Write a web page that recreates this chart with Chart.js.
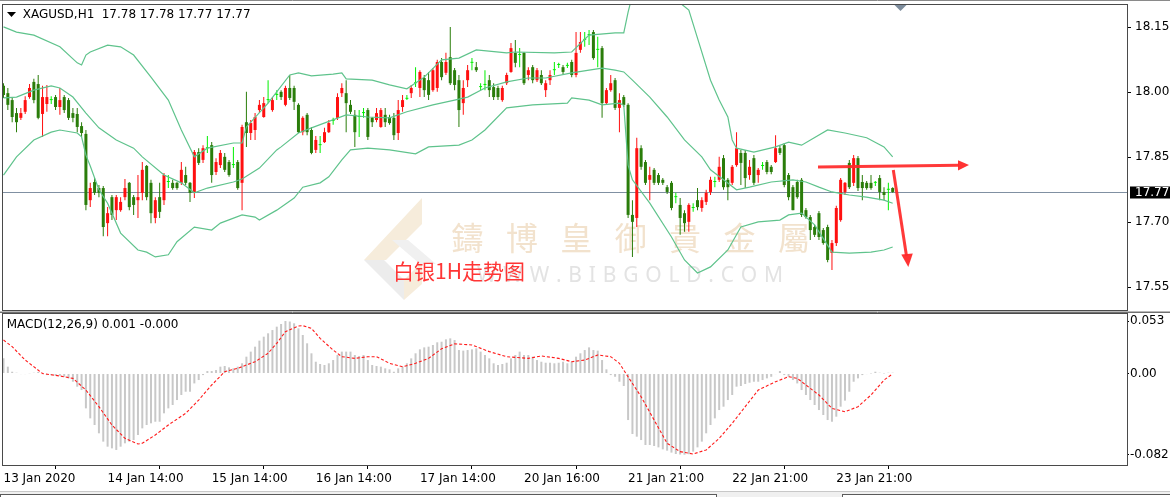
<!DOCTYPE html>
<html><head><meta charset="utf-8">
<script src="https://cdn.jsdelivr.net/npm/chart.js@4.4.1/dist/chart.umd.min.js"></script>
<style>
html,body{margin:0;padding:0;background:#fff;width:1170px;height:497px;overflow:hidden;}
canvas{position:absolute;left:0;}
#main{top:0;}
#macd{top:312px;}
</style></head><body>
<canvas id="main" width="1170" height="312"></canvas>
<canvas id="macd" width="1170" height="185"></canvas>
<script>
// ---------- DATA ----------
const symbolTitle = 'XAGUSD,H1';
const macdTitle = 'MACD(12,26,9)';
const opens = [18.015,17.998,17.982,17.952,17.941,17.955,17.989,18.024,18.019,17.950,
17.973,17.982,17.989,17.966,17.989,17.982,17.952,17.950,17.922,17.904,
17.751,17.793,17.779,17.779,17.698,17.758,17.728,17.728,17.758,17.791,
17.758,17.751,17.768,17.830,17.791,17.710,17.758,17.751,17.793,17.791,
17.791,17.791,17.809,17.791,17.768,17.862,17.844,17.871,17.878,17.816,
17.832,17.851,17.839,17.832,17.839,17.791,17.931,17.906,17.913,17.959,
17.943,17.982,17.959,17.994,18.001,17.971,18.010,18.010,17.971,17.908,
17.948,17.913,17.867,17.878,17.885,17.908,17.934,17.941,17.998,17.998,
17.971,17.948,17.943,17.952,17.959,17.941,17.936,17.920,17.948,17.943,
17.941,17.906,17.966,17.985,17.998,18.021,18.010,18.033,18.028,18.005,
18.010,18.070,18.045,18.081,18.051,18.028,17.975,18.028,18.068,18.058,
18.012,18.017,18.028,18.012,18.010,17.982,18.021,18.047,18.091,18.086,
18.091,18.040,18.058,18.028,18.040,18.005,18.028,18.051,18.063,18.058,
18.061,18.070,18.040,18.098,18.121,18.132,18.139,18.098,18.102,17.975,
18.005,18.028,17.964,17.989,17.971,17.717,17.710,17.871,17.839,17.798,
17.821,17.809,17.798,17.781,17.791,17.758,17.740,17.721,17.701,17.733,
17.751,17.733,17.747,17.770,17.793,17.798,17.848,17.798,17.791,17.832,
17.860,17.860,17.809,17.848,17.809,17.830,17.839,17.828,17.839,17.871,
17.878,17.809,17.781,17.793,17.798,17.728,17.712,17.689,17.721,17.682,
17.689,17.629,17.652,17.705,17.770,17.837,17.791,17.848,17.793,17.791,
17.791,17.791,17.802,17.770,17.775,17.779];
const highs = [18.021,18.010,17.987,17.964,17.964,17.991,18.019,18.031,18.040,18.015,
18.017,17.991,17.994,18.010,17.994,17.987,17.964,17.964,17.931,17.913,
17.791,17.802,17.786,17.784,17.735,17.763,17.763,17.758,17.800,17.793,
17.763,17.809,17.839,17.832,17.798,17.758,17.791,17.814,17.809,17.798,
17.793,17.839,17.828,17.793,17.867,17.871,17.878,17.899,17.885,17.848,
17.867,17.860,17.844,17.874,17.844,17.925,18.001,17.936,17.952,17.982,
17.989,18.028,17.989,18.005,18.005,18.015,18.040,18.015,17.975,17.945,
17.952,17.920,17.899,17.899,17.918,17.936,17.941,17.998,18.021,18.028,
17.982,17.959,17.959,17.964,17.964,17.943,17.964,17.964,17.964,17.948,
17.952,17.982,17.994,17.994,18.017,18.058,18.051,18.040,18.047,18.056,
18.075,18.079,18.091,18.151,18.056,18.040,18.028,18.063,18.079,18.070,
18.021,18.051,18.040,18.021,18.015,18.015,18.045,18.114,18.121,18.102,
18.093,18.058,18.063,18.056,18.051,18.028,18.051,18.070,18.068,18.063,
18.068,18.075,18.139,18.139,18.139,18.144,18.144,18.128,18.107,18.010,
18.040,18.033,17.998,17.994,17.975,17.751,17.895,17.878,17.844,17.828,
17.825,17.814,17.802,17.786,17.795,17.768,17.756,17.728,17.744,17.744,
17.779,17.758,17.775,17.805,17.805,17.851,17.855,17.802,17.832,17.908,
17.867,17.867,17.844,17.855,17.825,17.839,17.844,17.832,17.901,17.876,
17.883,17.814,17.786,17.798,17.802,17.733,17.717,17.694,17.726,17.687,
17.694,17.659,17.738,17.802,17.793,17.844,17.855,17.853,17.809,17.795,
17.809,17.795,17.809,17.781,17.791,17.781];
const lows = [17.987,17.959,17.931,17.908,17.936,17.950,17.985,17.975,17.938,17.897,
17.955,17.973,17.959,17.948,17.952,17.936,17.931,17.908,17.897,17.728,
17.735,17.763,17.758,17.668,17.668,17.705,17.705,17.724,17.751,17.728,
17.717,17.710,17.751,17.751,17.698,17.698,17.710,17.740,17.779,17.775,
17.775,17.786,17.786,17.747,17.756,17.832,17.837,17.860,17.791,17.809,
17.825,17.816,17.805,17.825,17.775,17.728,17.874,17.890,17.890,17.952,
17.941,17.975,17.955,17.982,17.982,17.968,17.982,17.959,17.906,17.901,
17.901,17.857,17.860,17.860,17.883,17.906,17.925,17.936,17.989,17.908,
17.950,17.874,17.897,17.941,17.890,17.920,17.931,17.918,17.920,17.925,
17.890,17.890,17.955,17.982,17.987,18.012,17.989,17.989,17.982,18.001,
18.001,18.028,18.040,18.017,18.005,17.920,17.948,18.012,18.051,18.047,
18.005,18.005,17.989,17.982,17.982,17.978,18.017,18.045,18.058,18.058,
18.017,18.028,18.021,18.024,18.017,17.989,18.017,18.040,18.056,18.042,
18.056,18.035,18.035,18.091,18.105,18.109,18.075,18.058,17.941,17.971,
18.001,17.959,17.908,17.966,17.710,17.620,17.689,17.821,17.786,17.751,
17.786,17.786,17.786,17.765,17.728,17.744,17.671,17.678,17.678,17.724,
17.728,17.724,17.740,17.763,17.781,17.793,17.775,17.751,17.786,17.828,
17.786,17.779,17.798,17.786,17.791,17.821,17.811,17.811,17.837,17.855,
17.781,17.751,17.728,17.754,17.712,17.708,17.659,17.666,17.659,17.648,
17.608,17.590,17.645,17.701,17.763,17.777,17.784,17.772,17.751,17.775,
17.775,17.784,17.751,17.751,17.728,17.768];
const closes = [17.994,17.971,17.943,17.931,17.952,17.982,18.010,17.982,17.941,17.989,
17.989,17.982,17.966,17.982,17.959,17.941,17.941,17.920,17.906,17.740,
17.779,17.768,17.768,17.689,17.721,17.717,17.758,17.747,17.779,17.735,
17.740,17.758,17.821,17.758,17.721,17.751,17.724,17.809,17.793,17.779,
17.779,17.821,17.791,17.768,17.862,17.837,17.871,17.871,17.809,17.839,
17.860,17.821,17.809,17.832,17.779,17.920,17.906,17.929,17.943,17.971,
17.975,17.982,17.982,17.994,17.989,18.010,17.987,17.978,17.908,17.941,
17.908,17.860,17.890,17.878,17.908,17.929,17.934,17.989,18.010,17.975,
17.955,17.908,17.943,17.952,17.897,17.931,17.952,17.959,17.931,17.929,
17.901,17.959,17.982,17.985,18.010,18.021,18.047,18.005,17.994,18.051,
18.070,18.035,18.070,18.021,18.017,17.959,18.010,18.051,18.068,18.051,
18.012,18.017,18.005,17.989,17.989,18.010,18.040,18.102,18.068,18.086,
18.021,18.051,18.028,18.051,18.021,18.021,18.040,18.051,18.063,18.047,
18.061,18.040,18.091,18.116,18.121,18.132,18.079,18.098,17.975,18.005,
18.021,17.964,17.982,17.971,17.717,17.701,17.871,17.828,17.791,17.809,
17.791,17.791,17.791,17.770,17.733,17.758,17.710,17.698,17.740,17.733,
17.735,17.751,17.768,17.798,17.793,17.828,17.781,17.781,17.828,17.871,
17.837,17.802,17.828,17.791,17.821,17.830,17.816,17.816,17.871,17.860,
17.786,17.758,17.728,17.758,17.717,17.712,17.682,17.671,17.666,17.652,
17.613,17.652,17.733,17.798,17.791,17.781,17.848,17.779,17.779,17.779,
17.779,17.791,17.770,17.763,17.775,17.770];
// Bollinger Bands (20,2): [bar, price]
const bbUpper = [[0,18.151],[3,18.139],[7,18.132],[13,18.105],[17,18.068],[18,18.063],[19,18.086],[20,18.093],[24,18.109],[27,18.105],[30,18.086],[34,18.035],[38,17.982],[41,17.913],[44,17.851],[47,17.871],[53,17.883],[55,17.883],[56,17.920],[61,17.975],[66,18.040],[68,18.045],[71,18.038],[76,18.042],[78,18.045],[79,18.031],[85,18.028],[89,18.017],[93,18.008],[97,18.035],[101,18.075],[105,18.079],[109,18.098],[116,18.091],[118,18.093],[127,18.091],[131,18.093],[135,18.132],[141,18.137],[143,18.137],[144,18.185],[145,18.225],[148,18.255],[151,18.255],[154,18.235],[156,18.206],[158,18.190],[160,18.125],[163,18.028],[165,17.982],[167,17.943],[168,17.890],[169,17.871],[173,17.862],[178,17.874],[181,17.885],[184,17.878],[190,17.913],[194,17.906],[199,17.895],[203,17.874],[205,17.851]];
const bbMiddle = [[0,17.987],[3,17.989],[7,18.005],[11,18.015],[13,18.010],[16,17.989],[19,17.952],[22,17.918],[26,17.890],[30,17.871],[32,17.851],[37,17.809],[41,17.791],[44,17.768],[47,17.779],[53,17.793],[55,17.800],[59,17.825],[63,17.867],[64,17.874],[68,17.906],[71,17.918],[79,17.948],[84,17.943],[89,17.941],[93,17.955],[99,17.971],[104,17.982],[107,17.989],[111,18.010],[116,18.024],[121,18.033],[125,18.033],[131,18.045],[135,18.051],[138,18.056],[141,18.051],[143,18.047],[145,18.028],[149,17.989],[153,17.943],[157,17.890],[161,17.851],[163,17.821],[166,17.798],[169,17.775],[172,17.781],[177,17.793],[182,17.798],[185,17.793],[188,17.781],[191,17.770],[195,17.763],[199,17.758],[203,17.751],[205,17.744]];
const bbLower = [[0,17.809],[3,17.851],[7,17.890],[11,17.908],[13,17.913],[17,17.906],[18,17.897],[19,17.855],[20,17.830],[22,17.775],[24,17.744],[27,17.675],[31,17.636],[33,17.631],[35,17.620],[38,17.625],[40,17.655],[44,17.689],[48,17.682],[50,17.698],[55,17.717],[58,17.712],[59,17.705],[63,17.728],[67,17.756],[69,17.781],[73,17.791],[75,17.805],[78,17.844],[80,17.867],[84,17.871],[89,17.867],[95,17.858],[98,17.874],[105,17.878],[108,17.890],[111,17.913],[116,17.964],[122,17.971],[130,17.975],[131,17.987],[135,17.982],[138,17.971],[142,17.975],[143,17.970],[144,17.832],[145,17.798],[149,17.744],[154,17.666],[157,17.613],[160,17.583],[163,17.597],[167,17.636],[170,17.689],[174,17.701],[179,17.705],[181,17.717],[184,17.721],[187,17.694],[191,17.631],[195,17.629],[200,17.631],[203,17.636],[205,17.643]];
// MACD histogram (main line) per bar and signal line [bar, value]
const macdHist = [0.0153,0.0069,0.0018,0.0008,-0.0006,-0.0006,0.0003,0.0008,0.0015,-0.0006,
-0.0016,-0.0016,-0.0023,-0.0023,-0.0033,-0.0049,-0.0083,-0.0133,-0.0167,-0.0352,
-0.0453,-0.0520,-0.0604,-0.0688,-0.0739,-0.0756,-0.0772,-0.0739,-0.0705,-0.0688,
-0.0672,-0.0621,-0.0554,-0.0520,-0.0503,-0.0487,-0.0487,-0.0402,-0.0352,-0.0318,
-0.0268,-0.0217,-0.0184,-0.0184,-0.0100,-0.0066,-0.0016,0.0025,0.0025,0.0035,
0.0069,0.0076,0.0062,0.0052,0.0069,0.0103,0.0170,0.0221,0.0271,0.0332,
0.0372,0.0406,0.0439,0.0473,0.0500,0.0530,0.0525,0.0507,0.0456,0.0389,
0.0305,0.0204,0.0119,0.0096,0.0086,0.0103,0.0136,0.0187,0.0221,0.0221,
0.0221,0.0187,0.0177,0.0187,0.0136,0.0086,0.0076,0.0069,0.0052,0.0042,
0.0018,0.0052,0.0069,0.0103,0.0153,0.0204,0.0244,0.0264,0.0271,0.0288,
0.0315,0.0321,0.0345,0.0355,0.0338,0.0237,0.0231,0.0237,0.0244,0.0254,
0.0221,0.0187,0.0153,0.0103,0.0086,0.0096,0.0109,0.0153,0.0187,0.0221,
0.0187,0.0187,0.0170,0.0136,0.0119,0.0109,0.0109,0.0103,0.0109,0.0119,
0.0103,0.0119,0.0170,0.0204,0.0237,0.0264,0.0237,0.0231,0.0136,0.0042,
-0.0016,-0.0033,-0.0083,-0.0126,-0.0470,-0.0611,-0.0638,-0.0672,-0.0722,-0.0722,
-0.0732,-0.0746,-0.0766,-0.0779,-0.0799,-0.0813,-0.0818,-0.0820,-0.0815,-0.0789,
-0.0746,-0.0688,-0.0604,-0.0520,-0.0453,-0.0369,-0.0335,-0.0268,-0.0217,-0.0133,
-0.0126,-0.0106,-0.0093,-0.0083,-0.0083,-0.0066,-0.0049,-0.0033,-0.0006,0.0025,
-0.0016,-0.0033,-0.0066,-0.0100,-0.0167,-0.0217,-0.0268,-0.0318,-0.0369,-0.0419,
-0.0470,-0.0487,-0.0436,-0.0335,-0.0274,-0.0184,-0.0083,-0.0049,-0.0016,-0.0006,
0.0001,0.0018,0.0008,0.0001,0.0008,0.0008];
const macdSignal = [[0,0.0338],[2,0.0271],[5,0.0136],[9,0.0],[13,-0.0025],[16,-0.0049],[19,-0.0167],[22,-0.0335],[25,-0.052],[28,-0.0655],[31,-0.0712],[32,-0.0705],[35,-0.0621],[38,-0.052],[42,-0.0402],[45,-0.0268],[48,-0.0116],[51,0.0018],[54,0.0052],[58,0.0119],[61,0.0204],[63,0.0305],[65,0.0423],[68,0.048],[69,0.0483],[71,0.0456],[73,0.0355],[76,0.0237],[78,0.017],[81,0.0153],[84,0.017],[86,0.017],[89,0.0103],[92,0.0069],[95,0.0103],[98,0.0153],[101,0.025],[104,0.030],[108,0.0288],[112,0.0221],[116,0.017],[121,0.0153],[124,0.0177],[128,0.0153],[131,0.0119],[134,0.0136],[137,0.0187],[140,0.017],[142,0.0103],[144,-0.0034],[147,-0.0234],[150,-0.047],[153,-0.0705],[156,-0.0789],[159,-0.0813],[162,-0.0772],[165,-0.0655],[168,-0.0503],[171,-0.0335],[174,-0.0167],[178,-0.0083],[181,-0.0032],[183,-0.0049],[185,-0.0116],[188,-0.0217],[191,-0.0352],[194,-0.0386],[197,-0.0335],[200,-0.0217],[203,-0.0066],[205,-0.0003]];
// Axis ticks
const priceTicks = [17.55,17.70,17.85,18.00,18.15];
const priceTickLabels = ['17.55','17.70','17.85','18.00','18.15'];
const macdTicks = [-0.082,0,0.053];
const macdTickLabels = ['-0.082','0.00','0.053'];
const timeTickBars = [0,24,48,72,96,120,144,168,192];
const timeLabels = ['13 Jan 2020','14 Jan 14:00','15 Jan 14:00','16 Jan 14:00','17 Jan 14:00','20 Jan 16:00','21 Jan 21:00','22 Jan 21:00','23 Jan 21:00'];
const watermarkChars = ['鑄','博','皇','御','貴','金','屬'];
const watermarkUrl = 'WWW.BIBGOLD.COM';
const noteText = '白银1H走势图';

// ---------- STYLE ----------
const FONT = '"DejaVu Sans", Verdana, sans-serif';
const X_MIN = -0.115, X_MAX = 259.02;
const UP = '#ff1010', DOWN = '#2a7d0a', DOJI = '#00f000', BB = '#5fc38c';
const colorAt = i => closes[i] > opens[i] ? UP : (closes[i] < opens[i] ? DOWN : DOJI);
const toXY = pts => pts.map(p => ({x:p[0], y:p[1]}));

const frameColor = '#4a4a4a';
function drawFrame(chart){
  const {ctx, chartArea:a} = chart;
  ctx.save(); ctx.strokeStyle = frameColor; ctx.lineWidth = 1;
  ctx.strokeRect(a.left-0.5, a.top-0.5, a.right-a.left+1, a.bottom-a.top+1);
  ctx.restore();
}
function poly(ctx, pts){ ctx.beginPath(); pts.forEach((p,k)=> k?ctx.lineTo(p[0],p[1]):ctx.moveTo(p[0],p[1])); ctx.closePath(); ctx.fill(); }

const mainDeco = {
  id:'mainDeco',
  beforeDatasetsDraw(chart){
    const {ctx, chartArea:a, scales:{y}} = chart;
    ctx.save();
    ctx.beginPath(); ctx.rect(a.left, a.top, a.right-a.left, a.bottom-a.top); ctx.clip();
    // logo
    ctx.fillStyle = '#f6ecdb';
    poly(ctx, [[422,198],[422,224],[386,260],[364,260]]);
    poly(ctx, [[404,280],[422,262],[422,284],[404,300]]);
    ctx.fillStyle = '#ececec';
    poly(ctx, [[364,260],[384,260],[404,280],[404,300]]);
    ctx.fillStyle = '#f0f0f0';
    poly(ctx, [[392,240],[408,240],[436,264],[420,264]]);
    // watermark chars
    ctx.fillStyle = '#f2e2cd';
    ctx.font = '32px "Noto Sans CJK TC"';
    ctx.textAlign = 'center'; ctx.textBaseline = 'middle';
    watermarkChars.forEach((c,k)=> ctx.fillText(c, 467.5 + k*54.4, 238));
    // url
    ctx.fillStyle = '#e3e3e3';
    ctx.font = '21px "Noto Sans"';
    ctx.textAlign = 'left';
    const chars = [...watermarkUrl];
    const ws = chars.map(ch => ctx.measureText(ch).width);
    const tot = ws.reduce((s,v)=>s+v,0);
    const gap = (306 - tot)/(chars.length-1);
    let xx = 477;
    chars.forEach((ch,k)=>{ ctx.fillText(ch, xx, 276); xx += ws[k] + gap; });
    // bid line
    const yb = Math.round(y.getPixelForValue(closes[closes.length-1])) + 0.5;
    ctx.strokeStyle = '#8090a2'; ctx.lineWidth = 1;
    ctx.beginPath(); ctx.moveTo(a.left, yb); ctx.lineTo(a.right, yb); ctx.stroke();
    ctx.restore();
  },
  afterDraw(chart){
    const {ctx, chartArea:a, scales:{y}} = chart;
    drawFrame(chart);
    ctx.save();
    // top window line
    ctx.strokeStyle = '#8a8a8a'; ctx.beginPath(); ctx.moveTo(0,0.5); ctx.lineTo(1170,0.5); ctx.stroke();
    ctx.strokeStyle = '#b8b8b8'; ctx.beginPath(); ctx.moveTo(0,311.5); ctx.lineTo(1170,311.5); ctx.stroke();
    // title
    ctx.fillStyle = '#000';
    poly(ctx, [[7,12],[16,12],[11.5,17]]);
    ctx.font = '12px ' + FONT; ctx.textBaseline = 'middle'; ctx.textAlign = 'left';
    const n = closes.length-1;
    ctx.fillText(symbolTitle, 22.7, 15);
    ctx.fillText([opens[n],highs[n],lows[n],closes[n]].map(v=>v.toFixed(2)).join(' '), 101.7, 15);
    // chart shift marker
    ctx.fillStyle = '#7d8c9c';
    poly(ctx, [[894.5,5],[906.5,5],[900.5,11]]);
    // price box
    const yb = Math.round(y.getPixelForValue(closes[n]));
    ctx.fillStyle = '#000'; ctx.fillRect(1130, yb-5.5, 40, 12);
    ctx.fillStyle = '#fff'; ctx.fillText(closes[n].toFixed(2), 1135, yb+0.5);
    // red note
    ctx.fillStyle = '#ff3535';
    ctx.font = '21px "Noto Sans CJK SC"';
    ctx.fillText(noteText, 393, 271);
    // arrows
    ctx.strokeStyle = 'rgba(255,40,40,0.92)'; ctx.fillStyle = 'rgba(255,40,40,0.95)';
    ctx.lineWidth = 3; ctx.lineCap = 'butt';
    ctx.beginPath(); ctx.moveTo(818,167); ctx.lineTo(959,165.3); ctx.stroke();
    poly(ctx, [[958,160.3],[969,165],[958,170.5]]);
    ctx.beginPath(); ctx.moveTo(893.3,170); ctx.lineTo(906.5,256); ctx.stroke();
    poly(ctx, [[901.3,254.5],[912.8,253.5],[908.3,267]]);
    ctx.restore();
  }
};

const macdDeco = {
  id:'macdDeco',
  afterDraw(chart){
    const {ctx} = chart;
    drawFrame(chart);
    ctx.save();
    ctx.strokeStyle = '#707070'; ctx.beginPath(); ctx.moveTo(0,0.5); ctx.lineTo(1170,0.5); ctx.stroke();
    ctx.fillStyle = '#000'; ctx.font = '12px ' + FONT; ctx.textBaseline = 'middle'; ctx.textAlign = 'left';
    const n = macdHist.length-1;
    ctx.fillText(macdTitle + ' ' + macdHist[n].toFixed(3) + ' ' + macdSignal[macdSignal.length-1][1].toFixed(3), 6.7, 13);
    // bottom tab strip
    ctx.fillStyle = '#f0f0f0'; ctx.fillRect(0, 179, 1170, 6);
    ctx.strokeStyle = '#c8c8c8'; ctx.beginPath(); ctx.moveTo(0,179.5); ctx.lineTo(1170,179.5); ctx.stroke();
    ctx.fillStyle = '#fff';
    ctx.fillRect(0.5, 182.5, 716, 4); ctx.fillRect(842.5, 182.5, 330, 4);
    ctx.strokeStyle = '#5a5a5a';
    ctx.strokeRect(0.5, 182.5, 716, 10); ctx.strokeRect(842.5, 182.5, 330, 10);
    ctx.restore();
  }
};

// ---------- MAIN CHART ----------
new Chart(document.getElementById('main'), {
  type:'bar',
  data:{datasets:[
    {type:'line', data:toXY(bbUpper), borderColor:BB, borderWidth:1.2, pointRadius:0, tension:0, fill:false, clip:0, order:0},
    {type:'line', data:toXY(bbMiddle), borderColor:BB, borderWidth:1.2, pointRadius:0, tension:0, fill:false, clip:0, order:0},
    {type:'line', data:toXY(bbLower), borderColor:BB, borderWidth:1.2, pointRadius:0, tension:0, fill:false, clip:0, order:0},
    {type:'bar', data:lows.map((l,i)=>({x:i, y:[l, highs[i]]})), backgroundColor:c=>colorAt(c.dataIndex), barThickness:1, grouped:false, inflateAmount:0, order:2},
    {type:'bar', data:opens.map((o,i)=>({x:i, y:[o, closes[i]]})), backgroundColor:c=>colorAt(c.dataIndex), barThickness:3, minBarLength:1, grouped:false, inflateAmount:0, order:1}
  ]},
  options:{
    responsive:false, animation:false, events:[],
    layout:{padding:{left:3, top:5, right:0, bottom:2}},
    plugins:{legend:{display:false}, tooltip:{enabled:false}},
    scales:{
      x:{type:'linear', min:X_MIN, max:X_MAX, offset:false, display:false},
      y:{type:'linear', position:'right', min:17.4975, max:18.2015,
        afterFit:s=>{s.width=43; s.paddingTop=0; s.paddingBottom=0;},
        afterBuildTicks:s=>{s.ticks = priceTicks.map(v=>({value:v}));},
        ticks:{autoSkip:false, callback:(v,i)=>priceTickLabels[i], color:'#000', font:{family:FONT, size:12}, padding:4},
        grid:{drawOnChartArea:false, drawTicks:true, tickLength:4, color:'#000'},
        border:{display:false}}
    }
  },
  plugins:[mainDeco]
});

// ---------- MACD CHART ----------
new Chart(document.getElementById('macd'), {
  type:'bar',
  data:{datasets:[
    {type:'line', data:toXY(macdSignal), borderColor:'#ff1a1a', borderWidth:1.1, borderDash:[3,2], pointRadius:0, tension:0, fill:false, clip:0, order:0},
    {type:'bar', data:macdHist.map((v,i)=>({x:i, y:v})), backgroundColor:'#c8c8c8', barThickness:2, grouped:false, inflateAmount:0, order:1}
  ]},
  options:{
    responsive:false, animation:false, events:[],
    layout:{padding:{left:3, top:2, right:0, bottom:0}},
    plugins:{legend:{display:false}, tooltip:{enabled:false}},
    scales:{
      x:{type:'linear', min:X_MIN, max:X_MAX, offset:false, position:'bottom',
        afterFit:s=>{s.height=32; s.paddingLeft=0; s.paddingRight=0;},
        afterBuildTicks:s=>{s.ticks = timeTickBars.map(v=>({value:v}));},
        ticks:{autoSkip:false, maxRotation:0, minRotation:0, align:'start', callback:(v,i)=>timeLabels[i], color:'#000', font:{family:FONT, size:12}, padding:3},
        grid:{drawOnChartArea:false, drawTicks:true, tickLength:4, color:'#000'},
        border:{display:false}},
      y:{type:'linear', position:'right', min:-0.0924, max:0.0601,
        afterFit:s=>{s.width=43; s.paddingTop=0; s.paddingBottom=0;},
        afterBuildTicks:s=>{s.ticks = macdTicks.map(v=>({value:v}));},
        ticks:{autoSkip:false, callback:(v,i)=>macdTickLabels[i], color:'#000', font:{family:FONT, size:12}, padding:1},
        grid:{drawOnChartArea:false, drawTicks:true, tickLength:2, color:'#000'},
        border:{display:false}}
    }
  },
  plugins:[macdDeco]
});
</script>
</body></html>
